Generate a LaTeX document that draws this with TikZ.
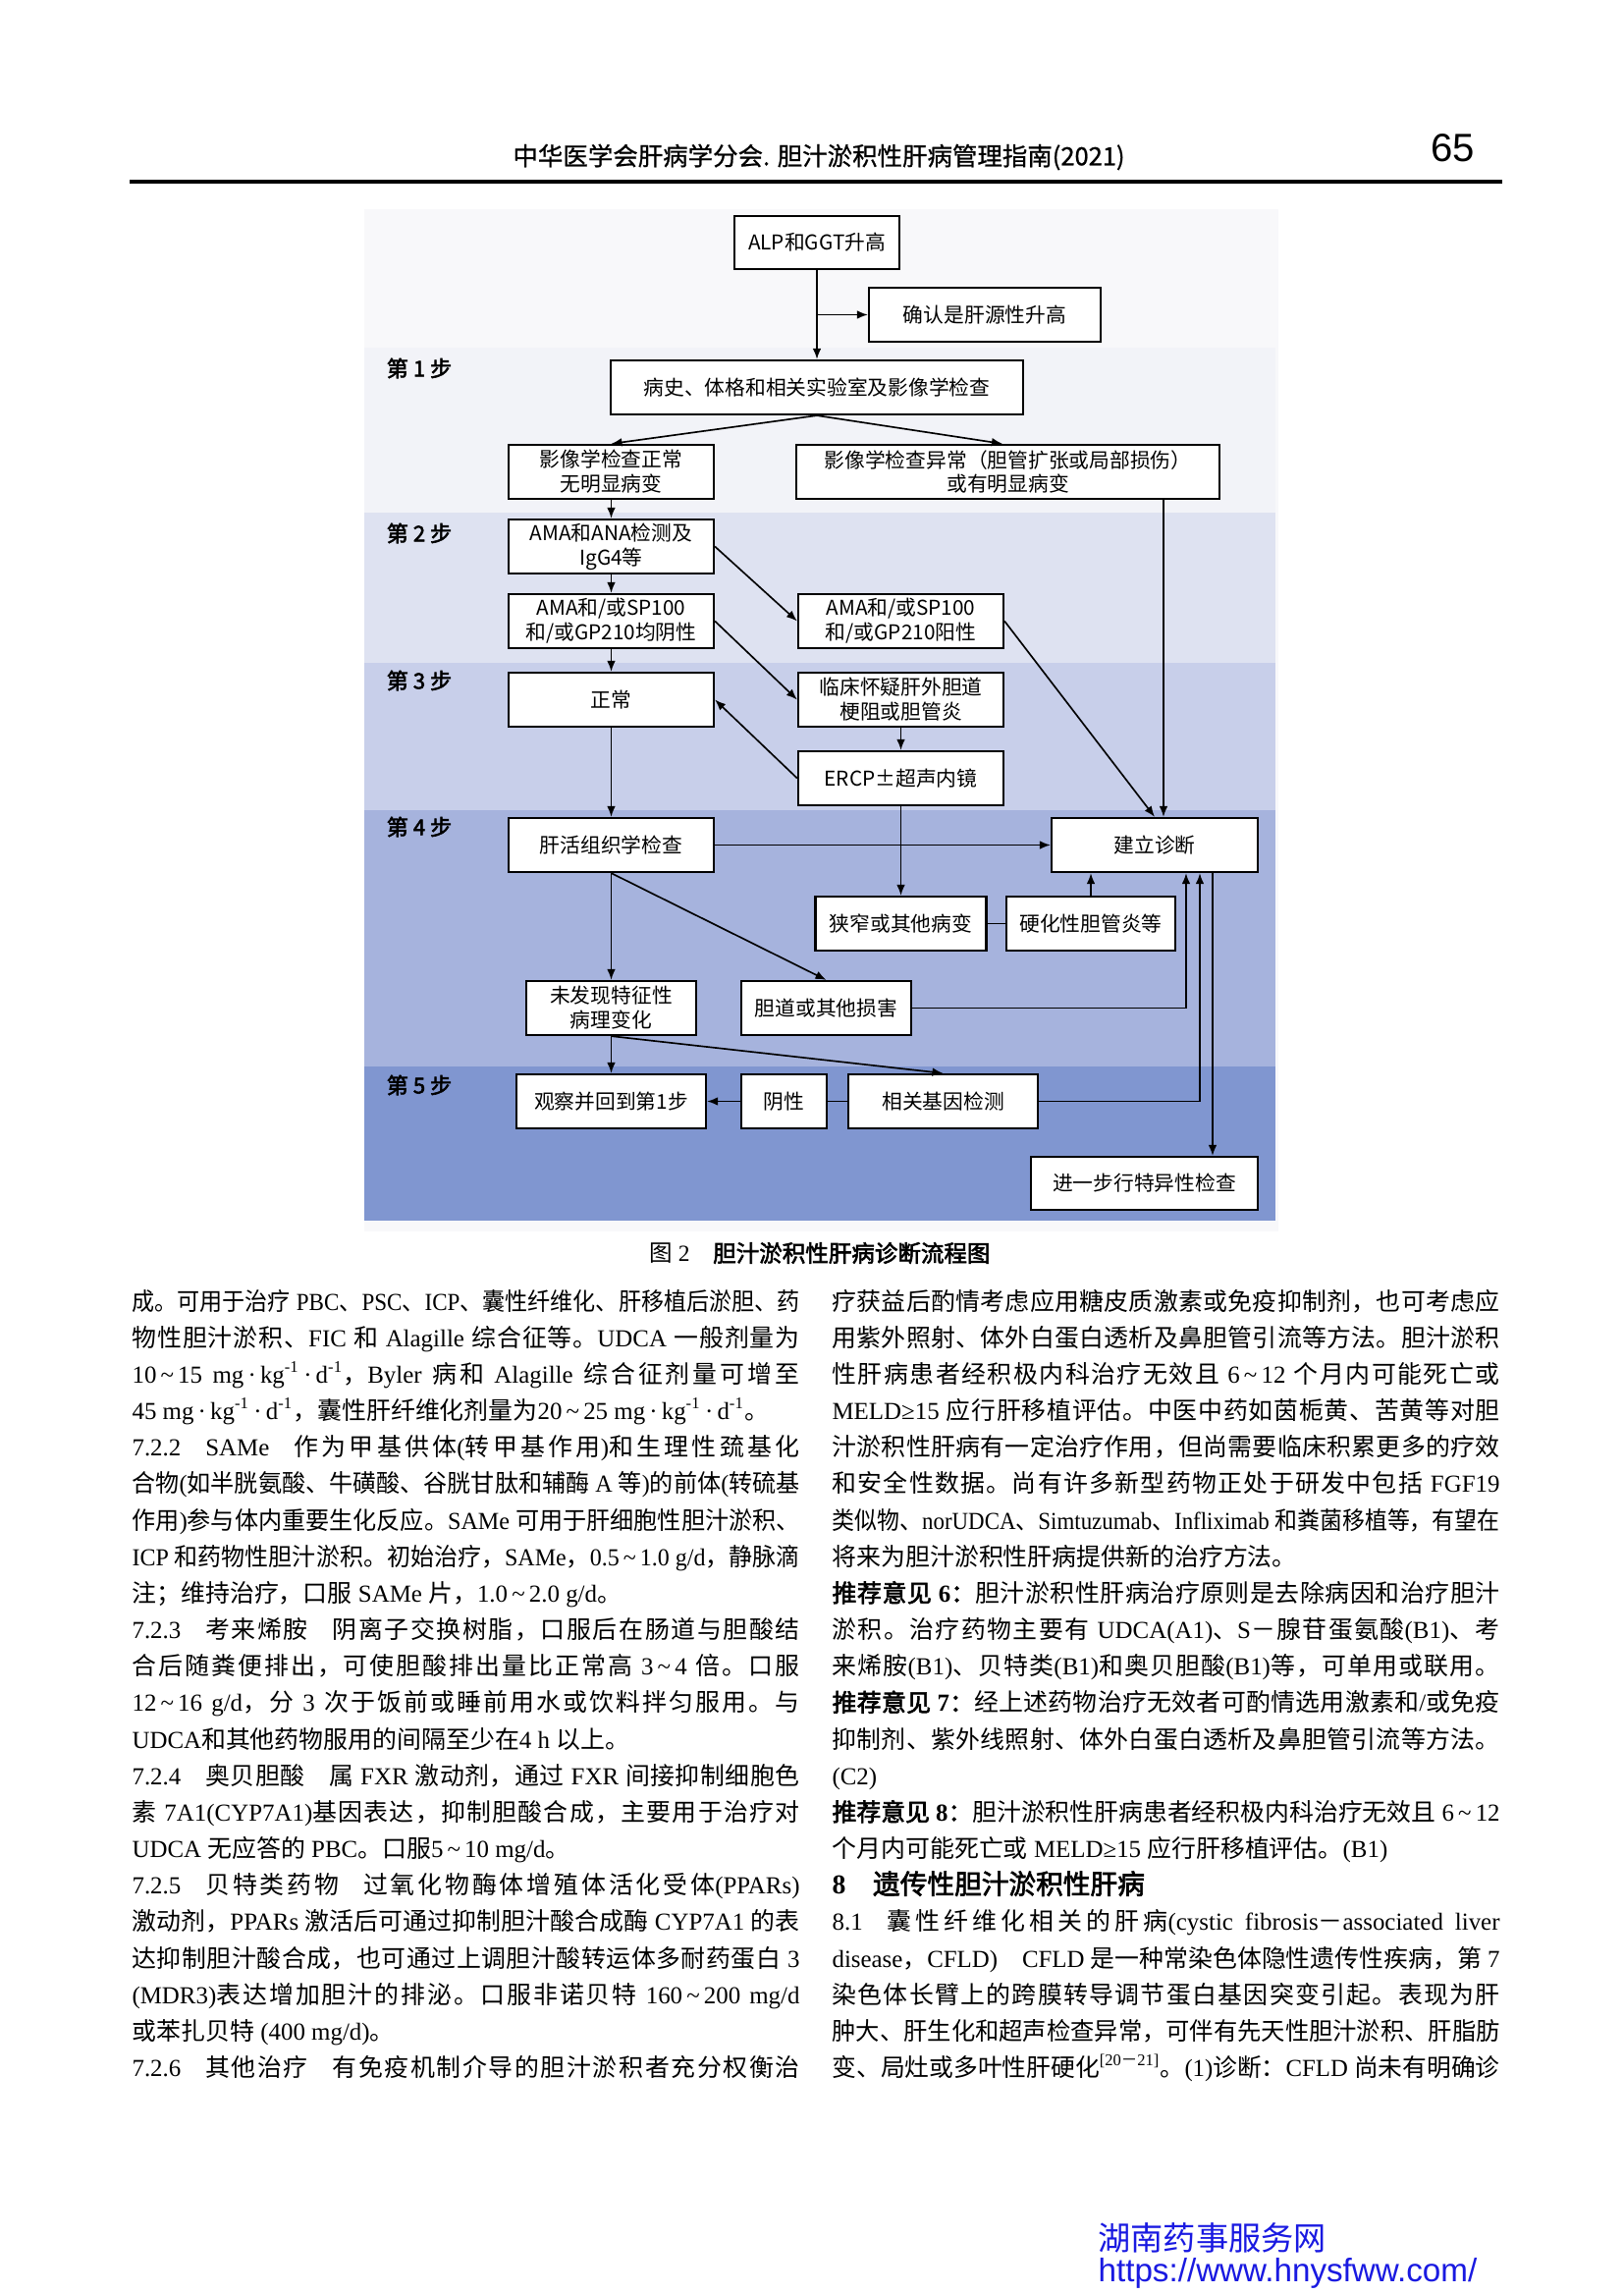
\documentclass[tikz,border=0pt]{standalone}
\usepackage{fontspec}
\usepackage{graphicx}
\usepackage{tikz}
\usetikzlibrary{positioning, arrows.meta, backgrounds}
\setmainfont{Liberation Serif}
\setsansfont{Liberation Sans}
\newfontfamily\cjkfont{Noto Sans CJK SC}[AutoFakeBold=2.5]
\newfontfamily\cjkmed{Noto Sans CJK SC}[FakeBold=0.8]
\definecolor{figbg}{RGB}{248,248,250}
\definecolor{stepa}{RGB}{242,243,248}
\definecolor{stepb}{RGB}{222,226,241}
\definecolor{stepc}{RGB}{200,207,234}
\definecolor{stepd}{RGB}{166,179,221}
\definecolor{stepe}{RGB}{128,150,208}
\definecolor{siteblue}{RGB}{25,25,225}

% switching between Chinese and Latin fonts
\newcommand\latinfam{\rmfamily}
\newcommand\cjkon{\cjkfont}
\newcommand\cjkoff{\latinfam}
\newcommand\cjkglue{\hskip0pt plus 0.8pt minus 0.2pt\relax}
\newXeTeXintercharclass\cjkcls
\newcount\cjkcode
\cjkcode="3000 \loop\XeTeXcharclass\cjkcode=\cjkcls \ifnum\cjkcode<"303F \advance\cjkcode by 1 \repeat
\cjkcode="4E00 \loop\XeTeXcharclass\cjkcode=\cjkcls \ifnum\cjkcode<"9FFF \advance\cjkcode by 1 \repeat
\cjkcode="FF00 \loop\XeTeXcharclass\cjkcode=\cjkcls \ifnum\cjkcode<"FFEF \advance\cjkcode by 1 \repeat
\XeTeXinterchartoks 0 \cjkcls = {\cjkon}
\XeTeXinterchartoks 4095 \cjkcls = {\cjkon}
\XeTeXinterchartoks \cjkcls 0 = {\cjkoff}
\XeTeXinterchartoks \cjkcls 4095 = {\cjkoff}
\XeTeXinterchartoks \cjkcls \cjkcls = {\cjkglue}
\XeTeXinterchartokenstate=1

\newcommand\flowfont{\fontsize{7.5pt}{9pt}\selectfont\cjkfont\let\latinfam\cjkfont\let\cjkglue\relax}
\newcommand\stepfont{\fontsize{8pt}{10pt}\selectfont\bfseries\cjkfont\let\latinfam\cjkfont\let\cjkglue\relax}
\newcommand\headfont{\fontsize{9.2pt}{11pt}\selectfont\cjkmed\let\latinfam\cjkmed\let\cjkon\cjkmed\let\cjkglue\relax}
\newcommand\capfont{\fontsize{8.5pt}{10pt}\selectfont\let\cjkglue\relax}
\newcommand\sitefont{\fontsize{12pt}{14pt}\selectfont\let\latinfam\sffamily\let\cjkglue\relax}
\newcommand\bodyfont{\fontsize{9pt}{13.43pt}\selectfont\lineskiplimit=-50pt\hbadness=10000\hfuzz=50pt}

% text lines of the columns
\newlength\colw
\setlength\colw{86.36mm}
\newcommand\jl[1]{\setbox0\hbox{#1}\ifdim\wd0>\colw\hbox{\resizebox{\colw}{\height}{\box0}}\else\hbox to\colw{\unhbox0}\fi}
\newcommand\lastline[1]{\hbox to\colw{#1\hfil}}
\newcommand\tld{\thinspace\char"7E\relax\thinspace}
\newcommand\perkg{mg\,·\,kg\textsuperscript{-1}\,·\,d\textsuperscript{-1}}

\begin{document}
\begin{tikzpicture}[
    x=0.127mm, y=-0.127mm,
    box/.style={draw, line width=0.8pt, fill=white, inner sep=0pt, minimum height=6.985mm, align=center, font=\flowfont},
    boxw/.style={minimum width=#1*0.127mm},
    arr/.style={-{Latex[length=1.4mm,width=1.1mm]}, line width=0.6pt},
    link/.style={line width=0.6pt},
    steplabel/.style={font=\stepfont, inner sep=0pt},
    column/.style={anchor=base west, inner sep=0pt, font=\bodyfont}]

\useasboundingbox (0,0) rectangle (1653,2336);
\fill[white] (0,0) rectangle (1653,2336);

% running head
\node[font=\headfont] (runhead) at (834,160) {中华医学会肝病学分会. 胆汁淤积性肝病管理指南(2021)};
\node[font=\fontsize{14.5pt}{16pt}\selectfont\sffamily, anchor=east] (pageno) at (1512,151) {65};
\draw[line width=0.45mm] (132,185) -- (1530,185);

% figure background and the five steps
\fill[figbg] (371,213) rectangle (1302,1254);
\fill[stepa] (371,354) rectangle (1299,522);
\fill[stepb] (371,522) rectangle (1299,675);
\fill[stepc] (371,675) rectangle (1299,825);
\fill[stepd] (371,825) rectangle (1299,1086);
\fill[stepe] (371,1086) rectangle (1299,1243);

\node[steplabel] (stepone) at (427,375) {第 1 步};
\node[steplabel] (steptwo) at (427,543) {第 2 步};
\node[steplabel] (stepthree) at (427,693) {第 3 步};
\node[steplabel] (stepfour) at (427,842) {第 4 步};
\node[steplabel] (stepfive) at (427,1105) {第 5 步};

% boxes
\node[box, boxw=168, minimum height=6.86mm] (alp) at (832,247) {ALP和GGT升高};
\node[box, boxw=236] (confirm) at (1003,320.5) {确认是肝源性升高};
\node[box, boxw=420] (history) at (832,394.5) {病史、体格和相关实验室及影像学检查};
\node[box, boxw=209] (imgnorm) at (622.5,480.5) {影像学检查正常\\无明显病变};
\node[box, boxw=431] (imgabn) at (1026.5,480.5) {影像学检查异常（胆管扩张或局部损伤）\\或有明显病变};
\node[box, boxw=209] (autoab) at (622.5,556.5) {AMA和ANA检测及\\IgG4等};
\node[box, boxw=209] (abneg) at (622.5,632.5) {AMA和/或SP100\\和/或GP210均阴性};
\node[box, boxw=209] (abpos) at (917.5,632.5) {AMA和/或SP100\\和/或GP210阳性};
\node[box, boxw=209] (normal) at (622.5,712.5) {正常};
\node[box, boxw=209] (suspect) at (917.5,712.5) {临床怀疑肝外胆道\\梗阻或胆管炎};
\node[box, boxw=209] (ercp) at (917.5,792.5) {ERCP±超声内镜};
\node[box, boxw=209] (biopsy) at (622.5,860.5) {肝活组织学检查};
\node[box, boxw=210] (diagnosis) at (1176,860.5) {建立诊断};
\node[box, boxw=174] (stricture) at (917.5,940.5) {狭窄或其他病变};
\node[box, boxw=172] (psc) at (1111,940.5) {硬化性胆管炎等};
\node[box, boxw=173] (nofind) at (622.5,1026.5) {未发现特征性\\病理变化};
\node[box, boxw=173] (bileinj) at (841.5,1026.5) {胆道或其他损害};
\node[box, boxw=193] (observe) at (622.5,1121.5) {观察并回到第1步};
\node[box, boxw=87] (negative) at (798.5,1121.5) {阴性};
\node[box, boxw=193] (gene) at (960.5,1121.5) {相关基因检测};
\node[box, boxw=231, minimum height=6.86mm] (further) at (1165.5,1205) {进一步行特异性检查};

% connectors
\coordinate (abntap) at ([xshift=1.14mm]diagnosis.north);
\coordinate (bileup) at ([xshift=4.06mm]diagnosis.south);
\coordinate (geneup) at ([xshift=5.84mm]diagnosis.south);
\coordinate (furtherdn) at ([xshift=7.49mm]diagnosis.south);
\draw[arr] (alp) -- (history);
\draw[arr] (alp.south |- confirm.west) -- (confirm.west);
\draw[arr] (history.south) -- (imgnorm.north);
\draw[arr] (history.south) -- ([xshift=-0.7mm]imgabn.north);
\draw[arr] (imgnorm) -- (autoab);
\draw[arr] (abntap |- imgabn.south) -- (abntap);
\draw[arr] (autoab) -- (abneg);
\draw[arr] (autoab.east) -- (abpos.west);
\draw[arr] (abneg) -- (normal);
\draw[arr] (abneg.east) -- (suspect.west);
\draw[arr] (abpos.east) -- (diagnosis.north);
\draw[arr] (suspect) -- (ercp);
\draw[arr] (ercp.west) -- (normal.east);
\draw[arr] (normal) -- (biopsy);
\draw[arr] (ercp) -- (stricture);
\draw[arr] (biopsy) -- (diagnosis);
\draw[link] (stricture) -- (psc);
\draw[arr] (psc.north) -- (psc.north |- diagnosis.south);
\draw[arr] (biopsy) -- (nofind);
\draw[arr] (biopsy.south) -- (bileinj.north);
\draw[arr] (bileinj.east) -| (bileup);
\draw[arr] (nofind) -- (observe);
\draw[arr] (nofind.south) -- (gene.north);
\draw[link] (gene) -- (negative);
\draw[arr] (negative) -- (observe);
\draw[arr] (gene.east) -| (geneup);
\draw[arr] (furtherdn) -- (furtherdn |- further.north);

% caption
\node[font=\capfont] (caption) at (835,1276) {图 2\quad{\bfseries 胆汁淤积性肝病诊断流程图}};

% body text
\node[column] (leftcol) at (134,1334) {\begin{minipage}[t]{\colw}
\jl{成。可用于治疗 PBC、PSC、ICP、囊性纤维化、肝移植后淤胆、药}
\jl{物性胆汁淤积、FIC 和 Alagille 综合征等。UDCA 一般剂量为}
\jl{10\tld15 \perkg，Byler 病和 Alagille 综合征剂量可增至}
\lastline{45 \perkg，囊性肝纤维化剂量为20\tld25 \perkg。}
\jl{7.2.2\quad SAMe\quad 作为甲基供体(转甲基作用)和生理性巯基化}
\jl{合物(如半胱氨酸、牛磺酸、谷胱甘肽和辅酶 A 等)的前体(转硫基}
\jl{作用)参与体内重要生化反应。SAMe 可用于肝细胞性胆汁淤积、}
\jl{ICP 和药物性胆汁淤积。初始治疗，SAMe，0.5\tld1.0 g/d，静脉滴}
\lastline{注；维持治疗，口服 SAMe 片，1.0\tld2.0 g/d。}
\jl{7.2.3\quad 考来烯胺\quad 阴离子交换树脂，口服后在肠道与胆酸结}
\jl{合后随粪便排出，可使胆酸排出量比正常高 3\tld4 倍。口服}
\jl{12\tld16 g/d，分 3 次于饭前或睡前用水或饮料拌匀服用。与}
\lastline{UDCA和其他药物服用的间隔至少在4 h 以上。}
\jl{7.2.4\quad 奥贝胆酸\quad 属 FXR 激动剂，通过 FXR 间接抑制细胞色}
\jl{素 7A1(CYP7A1)基因表达，抑制胆酸合成，主要用于治疗对}
\lastline{UDCA 无应答的 PBC。口服5\tld10 mg/d。}
\jl{7.2.5\quad 贝特类药物\quad 过氧化物酶体增殖体活化受体(PPARs)}
\jl{激动剂，PPARs 激活后可通过抑制胆汁酸合成酶 CYP7A1 的表}
\jl{达抑制胆汁酸合成，也可通过上调胆汁酸转运体多耐药蛋白 3}
\jl{(MDR3)表达增加胆汁的排泌。口服非诺贝特 160\tld200 mg/d}
\lastline{或苯扎贝特 (400 mg/d)。}
\jl{7.2.6\quad 其他治疗\quad 有免疫机制介导的胆汁淤积者充分权衡治}
\end{minipage}};

\node[column] (rightcol) at (847,1334) {\begin{minipage}[t]{\colw}
\jl{疗获益后酌情考虑应用糖皮质激素或免疫抑制剂，也可考虑应}
\jl{用紫外照射、体外白蛋白透析及鼻胆管引流等方法。胆汁淤积}
\jl{性肝病患者经积极内科治疗无效且 6\tld12 个月内可能死亡或}
\jl{MELD≥15 应行肝移植评估。中医中药如茵栀黄、苦黄等对胆}
\jl{汁淤积性肝病有一定治疗作用，但尚需要临床积累更多的疗效}
\jl{和安全性数据。尚有许多新型药物正处于研发中包括 FGF19}
\jl{类似物、norUDCA、Simtuzumab、Infliximab 和粪菌移植等，有望在}
\lastline{将来为胆汁淤积性肝病提供新的治疗方法。}
\jl{\textbf{推荐意见 6：}胆汁淤积性肝病治疗原则是去除病因和治疗胆汁}
\jl{淤积。治疗药物主要有 UDCA(A1)、S－腺苷蛋氨酸(B1)、考}
\jl{来烯胺(B1)、贝特类(B1)和奥贝胆酸(B1)等，可单用或联用。}
\jl{\textbf{推荐意见 7：}经上述药物治疗无效者可酌情选用激素和/或免疫}
\jl{抑制剂、紫外线照射、体外白蛋白透析及鼻胆管引流等方法。}
\lastline{(C2)}
\jl{\textbf{推荐意见 8：}胆汁淤积性肝病患者经积极内科治疗无效且 6\tld12}
\lastline{个月内可能死亡或 MELD≥15 应行肝移植评估。(B1)}
\lastline{\fontsize{10pt}{12pt}\selectfont\bfseries 8\quad 遗传性胆汁淤积性肝病}
\jl{8.1\quad 囊性纤维化相关的肝病(cystic fibrosis－associated liver}
\jl{disease，CFLD)\quad CFLD 是一种常染色体隐性遗传性疾病，第 7}
\jl{染色体长臂上的跨膜转导调节蛋白基因突变引起。表现为肝}
\jl{肿大、肝生化和超声检查异常，可伴有先天性胆汁淤积、肝脂肪}
\jl{变、局灶或多叶性肝硬化\textsuperscript{[20－21]}。(1)诊断：CFLD 尚未有明确诊}
\end{minipage}};

% site mark
\node[font=\sitefont, text=siteblue, anchor=west, inner sep=0pt] (sitename) at (1118,2279) {湖南药事服务网};
\node[font=\sitefont\sffamily, text=siteblue, anchor=west, inner sep=0pt] (siteurl) at (1118,2315) {https://www.hnysfww.com/};
\end{tikzpicture}
\end{document}
